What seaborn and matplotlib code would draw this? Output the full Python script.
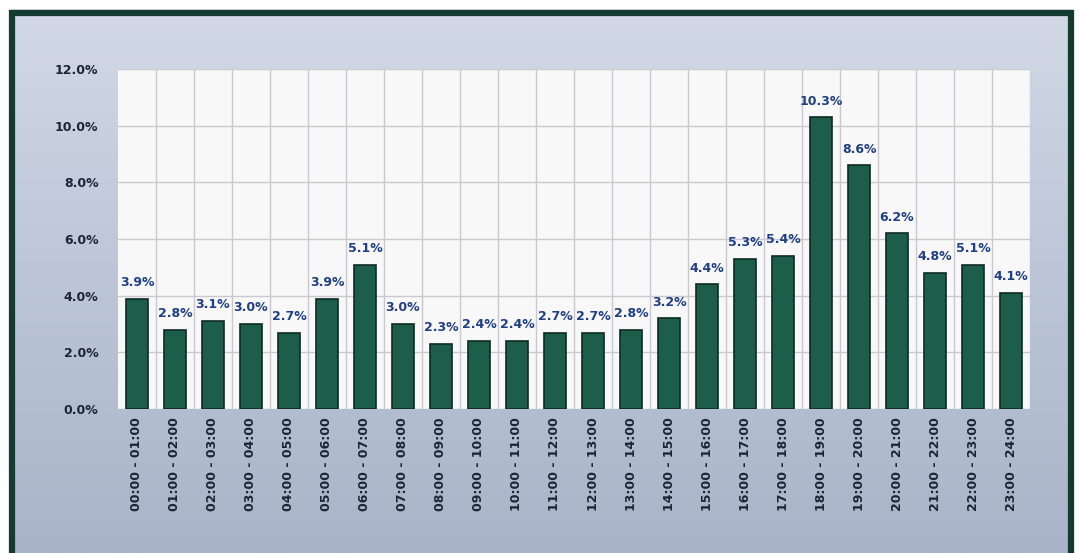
import numpy as np
import pandas as pd
import matplotlib
matplotlib.use("Agg")
import matplotlib.pyplot as plt
from matplotlib.patches import Rectangle
from matplotlib.ticker import FuncFormatter, MultipleLocator
import seaborn as sns

# hourly share of traffic
hours = ["00:00 - 01:00", "01:00 - 02:00", "02:00 - 03:00", "03:00 - 04:00",
         "04:00 - 05:00", "05:00 - 06:00", "06:00 - 07:00", "07:00 - 08:00",
         "08:00 - 09:00", "09:00 - 10:00", "10:00 - 11:00", "11:00 - 12:00",
         "12:00 - 13:00", "13:00 - 14:00", "14:00 - 15:00", "15:00 - 16:00",
         "16:00 - 17:00", "17:00 - 18:00", "18:00 - 19:00", "19:00 - 20:00",
         "20:00 - 21:00", "21:00 - 22:00", "22:00 - 23:00", "23:00 - 24:00"]
share = [3.9, 2.8, 3.1, 3.0, 2.7, 3.9, 5.1, 3.0, 2.3, 2.4, 2.4, 2.7,
         2.7, 2.8, 3.2, 4.4, 5.3, 5.4, 10.3, 8.6, 6.2, 4.8, 5.1, 4.1]

df = pd.DataFrame({"hour": hours, "share": share})

sns.set_theme(style="white")
plt.rcParams['font.family'] = ['DejaVu Sans']

fig = plt.figure(figsize=(10.82, 5.53), dpi=100)
fig.patch.set_facecolor("white")

# background gradient panel
bg = fig.add_axes([0, 0, 1, 1], zorder=-10)
grad = np.linspace(0, 1, 256).reshape(-1, 1)
cmap = matplotlib.colors.LinearSegmentedColormap.from_list(
    "bg", ["#a9b4c8", "#bcc6d8", "#d3d9e6"])
bg.imshow(grad, aspect="auto", cmap=cmap, origin="lower",
          extent=[0, 1, 0, 1])
bg.set_xlim(0, 1)
bg.set_ylim(0, 1)
bg.axis("off")
# white margin and dark green frame
bg.add_patch(Rectangle((0, 0.985), 1, 0.015, color="white", zorder=2))
bg.add_patch(Rectangle((0, 0), 0.009, 1, color="white", zorder=2))
bg.add_patch(Rectangle((0.992, 0), 0.008, 1, color="white", zorder=2))
bg.add_patch(Rectangle((0.0115, -0.02), 0.978, 0.997, fill=False,
                       edgecolor="#153a30", linewidth=4.5, zorder=3))

ax = fig.add_axes([0.109, 0.2604, 0.843, 0.6146])
ax.set_facecolor("#f8f8f8")
sns.barplot(data=df, x="hour", y="share", color="#1c5e4a", width=0.6,
            edgecolor="#0e2b22", linewidth=1.2, saturation=1, ax=ax, zorder=3)

ax.set_ylim(0, 12)
ax.set_xlim(-0.5, len(hours) - 0.5)
ax.yaxis.set_major_locator(MultipleLocator(2))
ax.yaxis.set_major_formatter(FuncFormatter(lambda v, p: f"{v:.1f}%"))
ax.set_xticks(np.arange(len(hours)) + 0.5, minor=True)
ax.grid(axis="y", which="major", color="#c9c9cf", linewidth=1.0, zorder=0)
ax.grid(axis="x", which="minor", color="#c9c9cf", linewidth=1.0, zorder=0)
ax.set_axisbelow(True)
for s in ax.spines.values():
    s.set_visible(False)

ax.set_xlabel("")
ax.set_ylabel("")
ax.tick_params(axis="x", which="both", length=0, pad=6)
ax.tick_params(axis="y", length=0, pad=14)
plt.setp(ax.get_xticklabels(), rotation=90, fontsize=9, fontweight="bold",
         color="#1b2533")
plt.setp(ax.get_yticklabels(), fontsize=9, fontweight="bold", color="#1b2533")

ax.bar_label(ax.containers[0], labels=[f"{v:.1f}%" for v in share],
             padding=7, fontsize=9, fontweight="bold", color="#1f3f82")

fig.savefig("out.png", dpi=100, facecolor=fig.get_facecolor())
